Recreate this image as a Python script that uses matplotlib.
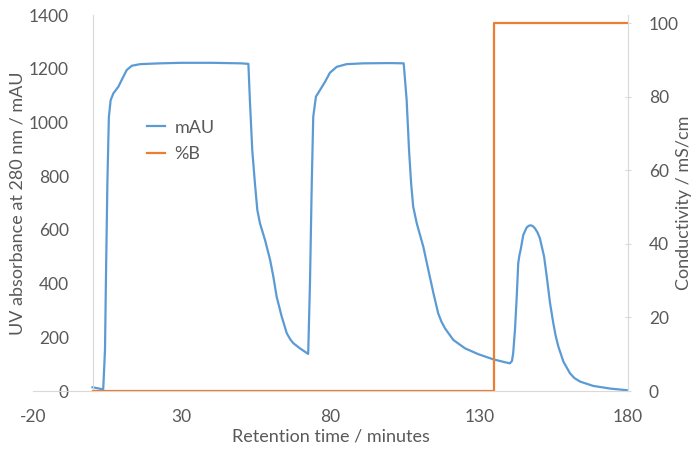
import matplotlib.pyplot as plt
from matplotlib.lines import Line2D

plt.rcParams['font.family'] = ['Lato', 'DejaVu Sans']
plt.rcParams['axes.unicode_minus'] = False

# UV trace (mAU)
time_uv = [0, 3.6, 4.2, 4.5, 5.0, 5.5, 6.1, 7.0, 8.7, 9.8, 11.5, 13.2, 16, 22.7, 30, 40, 50, 52.4,
           52.9, 53.7, 54.6, 55.4, 56.3, 58, 59.7, 60.8, 61.9, 63.6, 65.3, 66.5, 67.5, 69.7, 72.5,
           73.1, 73.7, 74.2, 75.1, 76.5, 78.2, 79.8, 82.1, 85.4, 91, 100, 104.6,
           105.6, 106.4, 107.1, 107.8, 109, 111.2, 112.9, 114.6, 116.2, 117.3, 118.5, 121.3, 125.2,
           129.7, 134.7, 138.7, 140.3, 141.0, 141.4, 142, 142.6, 143.1, 143.5, 143.9, 144.8, 145.9,
           146.6, 147.3, 148.0, 148.7, 149.6, 150.4, 151.8, 152.7, 153.8, 154.9, 155.7, 156.6,
           158.3, 160.5, 162.0, 163.9, 168.3, 174, 179.6]
mau = [14, 6, 153, 402, 774, 1020, 1083, 1108, 1133, 1158, 1195, 1211, 1217, 1220, 1222, 1222, 1220, 1218,
       1083, 897, 773, 674, 624, 562, 488, 425, 351, 277, 215, 192, 178, 159, 138,
       401, 773, 1021, 1096, 1121, 1152, 1185, 1207, 1217, 1220, 1221, 1220,
       1083, 897, 773, 686, 624, 537, 450, 364, 289, 258, 233, 190, 159,
       137, 118, 107, 103, 112, 140, 227, 351, 475, 505, 525, 581, 608,
       615, 617, 614, 606, 590, 568, 500, 425, 327, 252, 205, 165,
       109, 66, 48, 35, 19, 9, 3]

# Gradient / conductivity step (%B)
time_b = [0, 134.8, 134.8, 180]
pct_b = [0, 0, 100, 100]

blue = '#5b9bd5'
orange = '#ed7d31'
grey = '#595959'
axis_grey = '#d9d9d9'

fig = plt.figure(figsize=(6.98, 4.55), dpi=100)
ax1 = fig.add_axes([33/698, 1-391/455, 595/698, 376/455])
ax2 = ax1.twinx()

ax1.plot(time_uv, mau, color=blue, lw=1.6)
ax2.plot(time_b, pct_b, color=orange, lw=1.6)

ax1.set_xlim(-20, 180)
ax1.set_ylim(0, 1400)
ax2.set_ylim(0, 102.2)
ax1.set_xticks([-20, 30, 80, 130, 180])
ax1.set_yticks(range(0, 1401, 200))
ax2.set_yticks(range(0, 101, 20))

# left axis crosses at x = 0, like Excel
ax1.spines['left'].set_position(('data', 0))
for sp in ['top', 'right']:
    ax1.spines[sp].set_visible(False)
for sp in ['top', 'left', 'bottom']:
    ax2.spines[sp].set_visible(False)
ax1.spines['left'].set_color(axis_grey)
ax1.spines['bottom'].set_color(axis_grey)
ax2.spines['right'].set_color(axis_grey)

ax1.tick_params(axis='x', length=0, pad=13, labelsize=12.5, colors=grey)
ax1.tick_params(axis='y', length=0, pad=17, labelsize=12.5, colors=grey)
ax2.tick_params(axis='y', length=4, direction='inout', pad=13, labelsize=12.5,
                colors=grey, color=axis_grey)

ax1.set_xlabel('Retention time / minutes', fontsize=13, color=grey)
ax1.set_ylabel('UV absorbance at 280 nm / mAU', fontsize=13, color=grey)
ax2.set_ylabel('Conductivity / mS/cm', fontsize=13, color=grey)
ax1.xaxis.set_label_coords(0.5, -0.10)
ax1.yaxis.set_label_coords(-0.013, 0.5)
ax2.yaxis.set_label_coords(1.081, 0.5)

handles = [Line2D([], [], color=blue, lw=1.6), Line2D([], [], color=orange, lw=1.6)]
leg = ax1.legend(handles, ['mAU', '%B'], loc='upper left', bbox_to_anchor=(0.165, 0.765),
                 frameon=False, fontsize=13, handlelength=1.0, handletextpad=0.5,
                 labelspacing=0.6)
for t in leg.get_texts():
    t.set_color(grey)

plt.savefig('out.png', dpi=100)
